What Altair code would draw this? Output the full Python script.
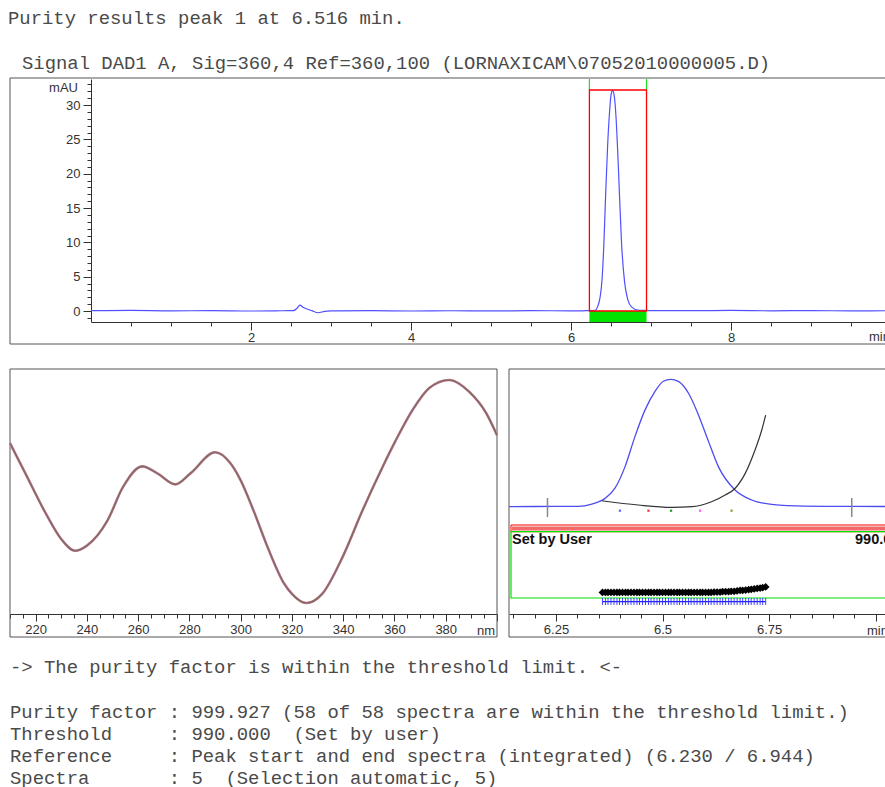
import altair as alt
import pandas as pd

# ---------------- data ----------------
# Chromatogram, signal DAD1 A (time in min, absorbance in mAU)
chrom_time = [0.00, 0.50, 1.00, 1.50, 2.00, 2.40, 2.53, 2.58, 2.61, 2.65, 2.70, 2.76,
              2.84, 2.92, 3.00, 3.50, 4.00, 4.50, 5.00, 5.50, 6.00, 6.14, 6.20, 6.302,
              6.334, 6.365, 6.388, 6.412, 6.435, 6.459, 6.482, 6.502, 6.519, 6.537,
              6.561, 6.584, 6.608, 6.631, 6.670, 6.709, 6.756, 6.834, 6.950, 7.022,
              7.50, 8.00, 8.50, 9.00, 9.50, 9.925]
chrom_mau = [0.05, 0.08, 0.02, 0.06, 0.00, 0.04, 0.05, 0.45, 0.87, 0.55, 0.29, 0.05,
             -0.25, -0.05, 0.02, 0.05, 0.00, 0.04, 0.02, 0.05, 0.03, 0.03, 0.05, 0.10,
             0.68, 2.1, 4.6, 10.1, 17.6, 24.4, 29.0, 31.6, 32.1, 31.6,
             28.6, 23.2, 16.4, 10.1, 4.2, 1.7, 0.6, 0.15, 0.08, 0.05,
             0.05, 0.08, 0.03, 0.06, 0.02, 0.04]

# integration limits of peak 1 (min) and height of its box (mAU)
peak_start = 6.230
peak_end = 6.944
peak_top = 32.2

# UV spectrum of the peak (nm, normalised absorbance)
spec_nm = [210, 216, 224, 229.6, 235.5, 240, 248, 254, 261.6, 267.5, 274.5, 280.4, 290,
           296, 300, 305, 310.6, 317, 320, 325.6, 331.8, 339.6, 347.5, 355.3, 360.5,
           367, 373.6, 381.4, 389.3, 395.8, 400]
spec_abs = [0.730, 0.601, 0.429, 0.326, 0.270, 0.292, 0.399, 0.541, 0.631, 0.601, 0.554,
            0.601, 0.691, 0.644, 0.571, 0.442, 0.283, 0.129, 0.086, 0.047, 0.086, 0.240,
            0.442, 0.627, 0.742, 0.871, 0.966, 1.000, 0.948, 0.858, 0.764]

# similarity curve over the peak (min, plot units)
sim_time = [6.357, 6.443, 6.522, 6.569, 6.615, 6.647, 6.670, 6.694, 6.717, 6.733, 6.742]
sim_val = [1.5, 0.43, -0.15, 0.0, 1.26, 2.95, 4.6, 8.4, 14.3, 19.4, 23.1]

# the 5 automatically selected spectra
sel_time = [6.400, 6.467, 6.520, 6.588, 6.662]
sel_name = ["s1", "s2", "s3", "s4", "s5"]
sel_color = ["#6060ff", "#ff3030", "#20a020", "#ff55ff", "#80a030"]

# purity ratio of the 58 spectra (min, plot units)
ratio_time = [6.359, 6.366, 6.372, 6.379, 6.386, 6.393, 6.399, 6.406, 6.413, 6.419,
              6.426, 6.433, 6.440, 6.446, 6.453, 6.460, 6.467, 6.473, 6.480, 6.487,
              6.493, 6.500, 6.507, 6.514, 6.520, 6.527, 6.534, 6.540, 6.547, 6.554,
              6.561, 6.567, 6.574, 6.581, 6.588, 6.594, 6.601, 6.608, 6.614, 6.621,
              6.628, 6.635, 6.641, 6.648, 6.655, 6.661, 6.668, 6.675, 6.682, 6.688,
              6.695, 6.702, 6.708, 6.715, 6.722, 6.729, 6.735, 6.742]
ratio_val = [-21.6, -21.6, -21.6, -21.6, -21.6, -21.6, -21.6, -21.6, -21.6, -21.6,
             -21.6, -21.6, -21.6, -21.6, -21.6, -21.6, -21.6, -21.6, -21.6, -21.6,
             -21.6, -21.6, -21.6, -21.6, -21.6, -21.6, -21.6, -21.6, -21.6, -21.6,
             -21.6, -21.6, -21.6, -21.6, -21.6, -21.6, -21.6, -21.6, -21.6, -21.5,
             -21.5, -21.5, -21.4, -21.4, -21.4, -21.3, -21.3, -21.2, -21.1, -21.1,
             -21.0, -20.9, -20.8, -20.7, -20.6, -20.5, -20.4, -20.2]
thr_val = -23.9

# tick positions
chrom_xticks = [0.5, 1.0, 1.5, 2.0, 2.5, 3.0, 3.5, 4.0, 4.5, 5.0, 5.5, 6.0, 6.5, 7.0,
                7.5, 8.0, 8.5, 9.0, 9.5]
chrom_yticks = list(range(-1, 34))
spec_ticks = list(range(210, 401, 5))
pur_ticks = [6.15, 6.2, 6.25, 6.3, 6.35, 6.4, 6.45, 6.5, 6.55, 6.6, 6.65, 6.7, 6.75,
             6.8, 6.85, 6.9, 6.95, 7.0]

# report text
title_line = "Purity results peak 1 at 6.516 min."
signal_line = "Signal DAD1 A, Sig=360,4 Ref=360,100 (LORNAXICAM\\07052010000005.D)"
report_lines = [
    "-> The purity factor is within the threshold limit. <-",
    "Purity factor : 999.927 (58 of 58 spectra are within the threshold limit.)",
    "Threshold     : 990.000  (Set by user)",
    "Reference     : Peak start and end spectra (integrated) (6.230 / 6.944)",
    "Spectra       : 5  (Selection automatic, 5)",
]

# ---------------- tables ----------------
chrom_df = pd.DataFrame({"time": chrom_time, "mAU": chrom_mau})
peak_df = pd.DataFrame({"start": [peak_start], "end": [peak_end], "top": [peak_top], "base": [0.0]})
lim_df = pd.DataFrame({"time": [peak_start, peak_end], "top": [peak_top, peak_top]})
spec_df = pd.DataFrame({"nm": spec_nm, "abs": spec_abs})
sim_df = pd.DataFrame({"time": sim_time, "val": sim_val})
sel_df = pd.DataFrame({"time": sel_time, "name": sel_name})
ratio_df = pd.DataFrame({"time": ratio_time, "val": ratio_val})
thr_df = pd.DataFrame({"start": [ratio_time[0]], "end": [ratio_time[-1]], "val": [thr_val]})
one = pd.DataFrame({"k": [0]})

H = 787

# ---------------- scales ----------------
def sc(domain, rng):
    return alt.Scale(domain=domain, range=rng, nice=False, zero=False)

X_CH = sc([0, 9.925], [91, 885])
Y_CH = sc([-1.6, 33.8], [322, 79])
X_SP = sc([210, 400], [10, 497])
Y_SP = sc([0, 1.047], [614, 369])
X_PU = sc([6.1397, 7.022], [509, 885])
Y_PU = sc([-27.03, 34.7], [614, 369])

AX = dict(grid=False, title=None, labelFont="Liberation Sans", labelFontSize=13,
          labelColor="#333", domainColor="#333", tickColor="#333", labelOverlap=False,
          labelFlush=False, domainWidth=1, tickWidth=1)


def tick_axis(orient, offset, values, test, big, small, pad):
    return alt.Axis(orient=orient, offset=offset, values=values,
                    labelExpr=f"({test}) ? toString(datum.value) : ''",
                    tickSize={"condition": {"test": test.split(" && ")[0], "value": big}, "value": small},
                    labelPadding=pad, **AX)


ax_ch_x = tick_axis("bottom", 322 - H, chrom_xticks, "datum.value % 2 === 0", 8, 4, 1)
ax_ch_y = tick_axis("left", -91, chrom_yticks, "datum.value % 5 === 0 && datum.value >= 0", 8, 4, 3)
ax_sp_x = tick_axis("bottom", 614 - H, spec_ticks,
                    "datum.value % 20 === 0 && datum.value > 210 && datum.value < 400", 7, 4, 2)
ax_pu_x = tick_axis("bottom", 614 - H, pur_ticks,
                    "abs(datum.value * 4 - round(datum.value * 4)) < 0.001 && datum.value < 6.9", 7, 4, 2)


def box(x1, y1, x2, y2, color="#555", width=1.0):
    return alt.Chart(one).mark_rect(fillOpacity=0, stroke=color, strokeWidth=width).encode(
        x=alt.value(x1), x2=alt.value(x2), y=alt.value(y1), y2=alt.value(y2))


def text(s, x, y, font="Liberation Mono", size=18.9, weight="normal", color="#4a4a4a",
         align="left", baseline="alphabetic"):
    s = s.replace(" ", "\u00a0")  # keep the report's column spacing
    return alt.Chart(pd.DataFrame({"label": [s]})).mark_text(
        font=font, fontSize=size, fontWeight=weight, color=color, align=align,
        baseline=baseline).encode(x=alt.value(x), y=alt.value(y), text="label:N")


layers = []

# panel frames
layers += [box(10, 78, 895, 344), box(10, 369, 497, 637), box(509, 369, 895, 637)]

# ---- chromatogram ----
layers.append(alt.Chart(peak_df).mark_rect(color="#00e400").encode(
    x=alt.X("start:Q", scale=X_CH, axis=None), x2="end:Q",
    y=alt.Y("base:Q", scale=Y_CH, axis=None), y2=alt.Y2(datum=-1.6)))
layers.append(alt.Chart(lim_df).mark_rule(color="#22dd22", strokeWidth=1.2).encode(
    x=alt.X("time:Q", scale=X_CH, axis=None),
    y=alt.Y("top:Q", scale=Y_CH, axis=None), y2=alt.Y2(datum=33.8)))
layers.append(alt.Chart(chrom_df).mark_line(color="#5050ff", strokeWidth=1.2,
                                            interpolate="monotone").encode(
    x=alt.X("time:Q", scale=X_CH, axis=ax_ch_x),
    y=alt.Y("mAU:Q", scale=Y_CH, axis=ax_ch_y)))
layers.append(alt.Chart(peak_df).mark_rect(fillOpacity=0, stroke="#ff0000", strokeWidth=1.3).encode(
    x=alt.X("start:Q", scale=X_CH, axis=None), x2="end:Q",
    y=alt.Y("base:Q", scale=Y_CH, axis=None), y2="top:Q"))

# ---- spectrum ----
layers.append(alt.Chart(spec_df).mark_line(color="#c080b0", strokeWidth=2.6,
                                           interpolate="monotone").encode(
    x=alt.X("nm:Q", scale=X_SP, axis=None),
    y=alt.Y("abs:Q", scale=Y_SP, axis=None)))
layers.append(alt.Chart(spec_df).mark_line(color="#8a6a58", strokeWidth=1.6,
                                           interpolate="monotone").encode(
    x=alt.X("nm:Q", scale=X_SP, axis=ax_sp_x),
    y=alt.Y("abs:Q", scale=Y_SP, axis=None)))

# ---- purity plot ----
layers.append(box(511, 525, 895, 531.7, color="#ff0000", width=1.0))
layers.append(alt.Chart(one).mark_rect(color="#f26a6a").encode(
    x=alt.value(512), x2=alt.value(895), y=alt.value(526.5), y2=alt.value(530.5)))
layers.append(box(511, 531.7, 895, 598, color="#00e000", width=1.2))
layers.append(alt.Chart(chrom_df).transform_filter(
    "datum.time >= 6.13 && datum.time <= 7.03").mark_line(
    color="#4c4cf0", strokeWidth=1.3, interpolate="monotone").encode(
    x=alt.X("time:Q", scale=X_PU, axis=ax_pu_x),
    y=alt.Y("mAU:Q", scale=Y_PU, axis=None)))
layers.append(alt.Chart(lim_df).mark_rule(color="#888888", strokeWidth=1.5).encode(
    x=alt.X("time:Q", scale=X_PU, axis=None),
    y=alt.Y(datum=2.2, scale=Y_PU, axis=None), y2=alt.Y2(datum=-2.6)))
layers.append(alt.Chart(sim_df).mark_line(color="#333333", strokeWidth=1.2,
                                          interpolate="monotone").encode(
    x=alt.X("time:Q", scale=X_PU, axis=None),
    y=alt.Y("val:Q", scale=Y_PU, axis=None)))
layers.append(alt.Chart(sel_df).mark_square(size=5, opacity=1).encode(
    x=alt.X("time:Q", scale=X_PU, axis=None),
    y=alt.Y(datum=-1.0, scale=Y_PU, axis=None),
    color=alt.Color("name:N", scale=alt.Scale(domain=sel_name, range=sel_color), legend=None)))
layers.append(alt.Chart(thr_df).mark_rule(color="#2020ff", strokeWidth=1.2).encode(
    x=alt.X("start:Q", scale=X_PU, axis=None), x2="end:Q",
    y=alt.Y("val:Q", scale=Y_PU, axis=None)))
layers.append(alt.Chart(ratio_df).mark_tick(color="#3030ff", thickness=1, size=7,
                                            orient="vertical", opacity=0.9).encode(
    x=alt.X("time:Q", scale=X_PU, axis=None),
    y=alt.Y(datum=thr_val, scale=Y_PU, axis=None)))
layers.append(alt.Chart(ratio_df).mark_point(shape="diamond", filled=True, color="#000000",
                                             size=60, opacity=1).encode(
    x=alt.X("time:Q", scale=X_PU, axis=None),
    y=alt.Y("val:Q", scale=Y_PU, axis=None)))

# ---- axis units and labels (cut at the right edge as in the reference) ----
layers += [
    text("mAU", 78, 92, font="Liberation Sans", size=13, color="#333", align="right"),
    text("min", 869, 341, font="Liberation Sans", size=13, color="#333"),
    text("nm", 477, 635, font="Liberation Sans", size=13, color="#333"),
    text("min", 867, 635, font="Liberation Sans", size=13, color="#333"),
    text("Set by User", 512, 544, font="Liberation Sans", size=14.5, weight="bold", color="#111"),
    text("990.000", 855, 544, font="Liberation Sans", size=14.5, weight="bold", color="#111"),
]

# ---- report text ----
layers.append(text(title_line, 8, 24))
layers.append(text(signal_line, 22, 69))
for i, line in enumerate(report_lines):
    base = 673 if i == 0 else 717.5 + 22 * (i - 1)
    layers.append(text(line, 10, base))

chart = alt.layer(*layers).resolve_scale(x="independent", y="independent", color="independent").properties(
    width=885, height=787, autosize=alt.AutoSizeParams(type="none"), padding=0,
    background="white",
).configure_view(stroke=None)

chart.save("out.html", embed_options={"renderer": "svg", "actions": False})
